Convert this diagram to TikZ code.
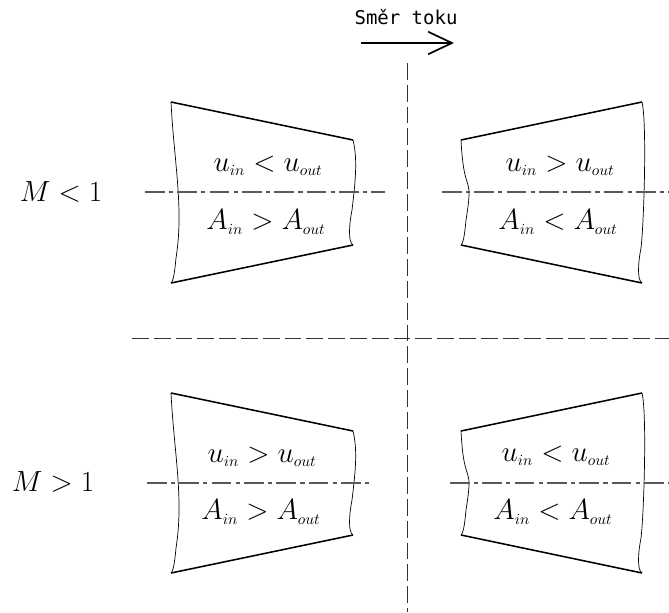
\documentclass[tikz,border=0pt]{standalone}
\usepackage{amsmath}
\usepackage{fontspec}
\newfontfamily\techfont{DejaVu Sans Mono}
\usetikzlibrary{arrows.meta}

\newcommand{\sub}[1]{_{\scriptscriptstyle #1}}

\begin{document}
\begin{tikzpicture}[x=0.025cm, y=-0.025cm,
    wall/.style={line width=1.1pt},
    cut/.style={line width=0.5pt},
    axisline/.style={black!65, line width=0.8pt, dash pattern=on 14pt off 3pt on 3pt off 3pt},
    divider/.style={black!80, line width=0.6pt, dash pattern=on 12pt off 3.5pt},
    rel/.style={font=\fontsize{22}{24}\selectfont},
    mach/.style={font=\fontsize{20}{23}\selectfont}]
    \useasboundingbox (0,0) rectangle (669,612);

    % dividing lines
    \draw[divider] (407,63) -- (407,612);
    \draw[divider] (132,338) -- (669,338);

    % flow direction
    \node[font=\techfont\fontsize{13.5}{15}\selectfont] (flow) at (406,17) {Směr toku};
    \coordinate (fa) at (361,43);
    \coordinate (fb) at (454,43);
    \draw[line width=1.2pt, -{Straight Barb[length=17pt, width=16pt, line width=1.2pt]}] (fa) -- (fb);

    % nozzle walls: x left / x right / top left / bottom left / top right / bottom right
    \foreach \xa/\xb/\ya/\yb/\yc/\yd in {171/353/102/283/140/245, 461/642/140/245/102/283,
                                         171/353/393/573/431/535, 461/642/431/535/393/573} {
        \draw[wall] (\xa,\ya) -- (\xb,\yc);
        \draw[wall] (\xa,\yb) -- (\xb,\yd);
        \draw[cut] (\xa,\ya) .. controls +(3,60) and +(8,-50) .. (\xa+5,\yb-25) .. controls +(-1,10) and +(3,-3) .. (\xa,\yb);
        \draw[cut] (\xb,\yc) .. controls +(5,20) and +(3,-25) .. (\xb-1,\yd-35) .. controls +(-3,15) and +(-5,-3) .. (\xb,\yd);
    }

    % centre lines
    \draw[axisline] (145,192) -- (385,192);
    \draw[axisline] (442,192) -- (669,192);
    \draw[axisline] (147,483) -- (370,483);
    \draw[axisline] (450,483) -- (669,483);

    % labels
    \node[mach] (m1) at (61,192) {$M<1$};
    \node[mach] (m2) at (53,482) {$M>1$};

    \node[rel] (u1) at (268,166) {$u\sub{in}<u\sub{out}$};
    \node[rel] (a1) at (266,222) {$A\sub{in}>A\sub{out}$};
    \node[rel] (u2) at (560,166) {$u\sub{in}>u\sub{out}$};
    \node[rel] (a2) at (558,222) {$A\sub{in}<A\sub{out}$};
    \node[rel] (u3) at (262,457) {$u\sub{in}>u\sub{out}$};
    \node[rel] (a3) at (261,512) {$A\sub{in}>A\sub{out}$};
    \node[rel] (u4) at (556,456) {$u\sub{in}<u\sub{out}$};
    \node[rel] (a4) at (553,512) {$A\sub{in}<A\sub{out}$};
\end{tikzpicture}
\end{document}
